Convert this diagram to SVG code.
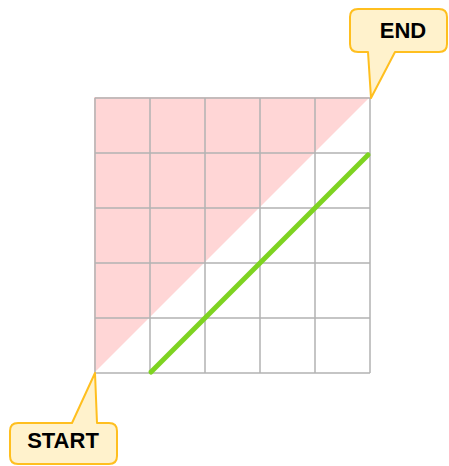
<svg xmlns="http://www.w3.org/2000/svg" width="449" height="466" viewBox="0 0 449 466">
<style>
.grid{stroke:#b3b3b3;stroke-width:1.5;fill:none}
.callout{fill:#fff2cc;stroke:#ffbf1f;stroke-width:2;stroke-linejoin:round}
.lbl{font-family:"Liberation Sans",Arial,sans-serif;font-weight:bold;font-size:22px;fill:#000;text-anchor:middle}
</style>
<rect width="449" height="466" fill="#fff"/>
<g id="region">
<polygon points="94,97 370,97 94,373" fill="#ffd6d6"/>
</g>
<g id="grid">
<path class="grid" d="M95,98V373M150,98V373M205,98V373M260,98V373M315,98V373M370,98V373M95,98H370M95,153H370M95,208H370M95,263H370M95,318H370M95,373H370"/>
</g>
<g id="connectors">
<line x1="151" y1="372" x2="368" y2="155" stroke="#7ed321" stroke-width="5" stroke-linecap="round"/>
</g>
<g id="end">
<path class="callout" d="M358,9H439Q447,9 447,17V44Q447,52 439,52H395L371,98L368,52H358Q350,52 350,44V17Q350,9 358,9Z"/>
<text class="lbl" x="403" y="38">END</text>
</g>
<g id="start">
<path class="callout" d="M18,423H72L95,373L97,423H109Q117,423 117,431V456Q117,464 109,464H18Q10,464 10,456V431Q10,423 18,423Z"/>
<text class="lbl" x="63" y="448">START</text>
</g>
</svg>
